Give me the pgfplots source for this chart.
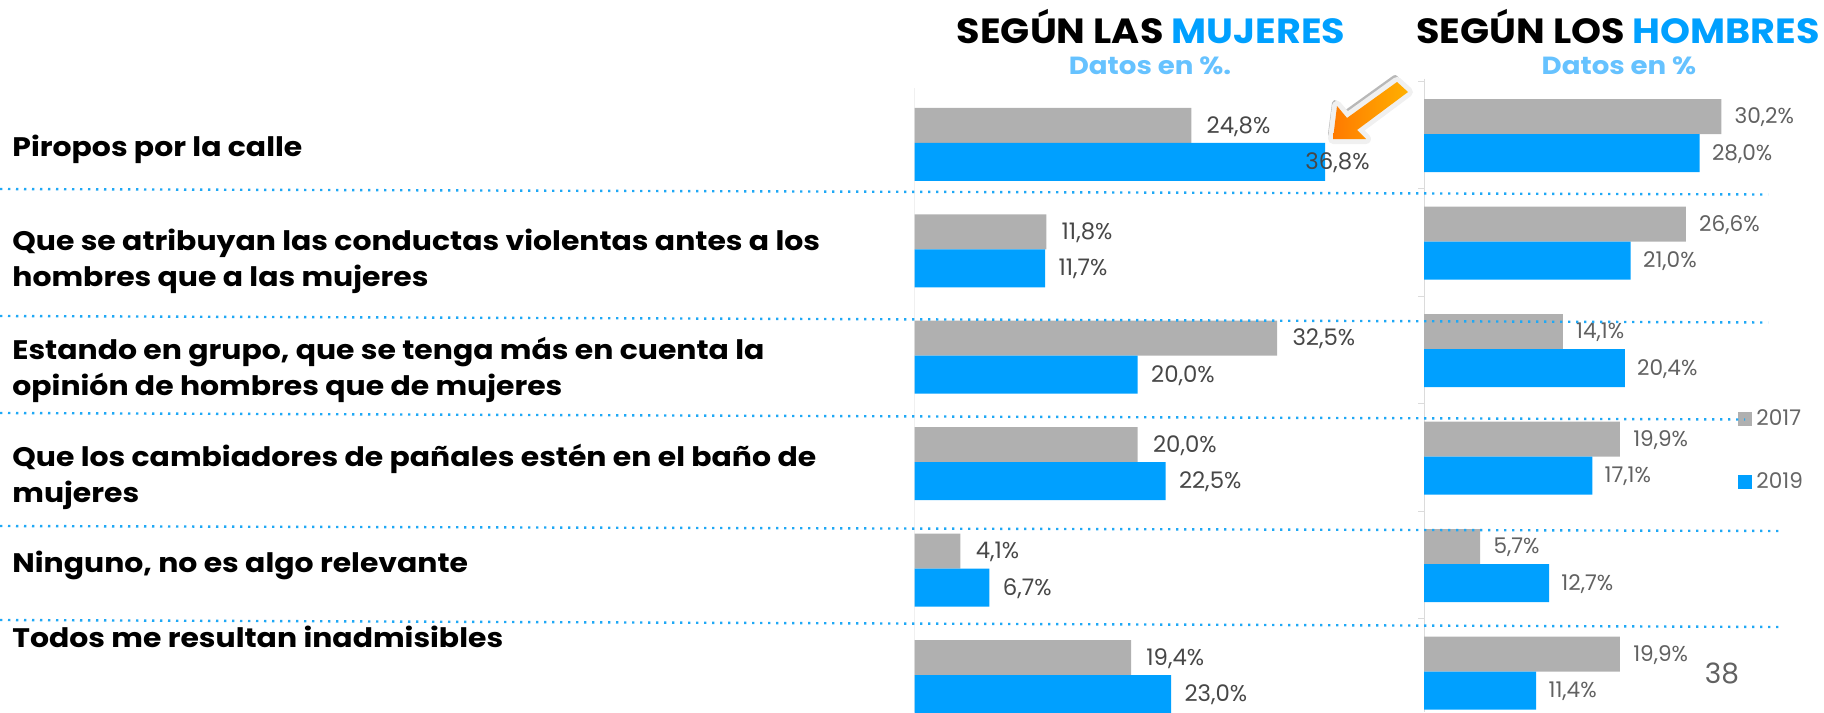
\documentclass[border=0pt]{standalone}
\usepackage{fontspec}
\setmainfont{Poppins}
\newfontfamily\widefont[FakeStretch=1.115]{Poppins}
\newfontfamily\titlefont[FakeStretch=1.09]{Poppins}
\usepackage{pgfplots}
\pgfplotsset{compat=1.18}
\usepackage{pgfplotstable}
\definecolor{barblue}{HTML}{00A0FF}
\definecolor{bargray}{HTML}{B0B0B0}
\definecolor{subblue}{HTML}{66C2FF}
\definecolor{dotblue}{HTML}{1FA8F5}
\definecolor{arrowlo}{HTML}{FF7A00}
\definecolor{arrowhi}{HTML}{FFB000}
\pgfplotstableread{
idx v2017m v2019m v2017h v2019h
0 24.8 36.8 30.2 28.0
1 11.8 11.7 26.6 21.0
2 32.5 20.0 14.1 20.4
3 20.0 22.5 19.9 17.1
4 4.1 6.7 5.7 12.7
5 19.4 23.0 19.9 11.4
}\datatable
\pgfplotsset{
 panel/.style={
  anchor=north west, scale only axis, y dir=reverse,
  xbar, xmin=0,
  axis x line=none, axis y line=left,
  ytick={-0.5,0.5,1.5,2.5,3.5,4.5}, yticklabels={},
  y axis line style={-},
  point meta=x,
  nodes near coords={\pgfmathprintnumber[/pgf/number format/.cd,fixed,fixed zerofill,precision=1,use comma,assume math mode=true]{\pgfplotspointmeta}\%},
  nodes near coords align={anchor=west},
 },
 gbar/.style={fill=bargray,draw=none,bar width=17.5pt,bar shift=9pt},
 bbar/.style={fill=barblue,draw=none,bar width=19pt,bar shift=-9.25pt},
}
\begin{document}
\begin{tikzpicture}
\useasboundingbox (0pt,0pt) rectangle (912pt,-356pt);

% left panel
\begin{axis}[panel, at={(457.35pt,-44pt)}, width=242.65pt, height=312pt,
  xmax=43.52, ymin=-0.52, ymax=5.343,
  y axis line style={draw=black!6}, ytick style={draw=none},
  every node near coord/.append style={inner sep=0pt,font=\fontsize{11.4}{12}\selectfont,text=black!72,yshift=-0.5pt}]
\addplot[gbar, every node near coord/.append style={xshift=7.5pt}] table[x=v2017m,y=idx]{\datatable};
\addplot[bbar, every node near coord/.append style={xshift=6.5pt},
  coordinate style/.condition={x>30}{xshift=-16.5pt}] table[x=v2019m,y=idx]{\datatable};
\end{axis}

% right panel
\begin{axis}[panel, at={(712pt,-39.3pt)}, width=188pt, height=316.7pt,
  xmax=38.2, ymin=-0.52, ymax=5.372,
  clip=false,
  y axis line style={draw=black!14}, ytick style={draw=black!14}, tick align=outside,
  major tick length=3pt,
  every node near coord/.append style={inner sep=0pt,font=\fontsize{10.8}{12}\selectfont,text=black!62,yshift=-0.5pt},
  legend style={at={(0.835,0.485)},anchor=north west,draw=none,fill=none,inner sep=0pt,
     font=\fontsize{10.8}{12}\selectfont,text=black!60,row sep=18.3pt,
     /tikz/every even column/.append style={column sep=2pt}},
  legend cell align=left,
  legend image code/.code={\fill[#1] (0pt,-3.5pt) rectangle (7pt,3.5pt);}]
\addplot[gbar, every node near coord/.append style={xshift=6.5pt}] table[x=v2017h,y=idx]{\datatable};
\addlegendentry{2017}
\addplot[bbar, every node near coord/.append style={xshift=6pt}] table[x=v2019h,y=idx]{\datatable};
\addlegendentry{2019}
\end{axis}

\begin{scope}[x=0.5pt,y=-0.5pt]
% separators
\begin{scope}[dotblue,line width=1.2pt,dash pattern=on 1.2pt off 2.8pt]
\draw (0,189)--(1768,194.5);
\draw (0,316)--(1768,322.5);
\draw (0,413)--(1745,419.5);
\draw (0,526)--(1783,531);
\draw (0,620)--(1783,627);
\end{scope}

% titles
\node[anchor=center,font=\titlefont\fontsize{17.5}{20}\selectfont\bfseries] at (1151,27) {SEGÚN LAS \textcolor{barblue}{MUJERES}};
\node[anchor=center,font=\titlefont\fontsize{17.5}{20}\selectfont\bfseries] at (1618,27) {SEGÚN LOS \textcolor{barblue}{HOMBRES}};
\node[anchor=center,font=\widefont\fontsize{12.4}{14}\selectfont\bfseries,text=subblue] at (1150,66) {Datos en \%.};
\node[anchor=center,font=\widefont\fontsize{12.4}{14}\selectfont\bfseries,text=subblue] at (1619,66) {Datos en \%};

% category labels
\begin{scope}[every node/.style={anchor=west,inner sep=0pt,align=left,font=\widefont\fontsize{13.4}{18}\selectfont\bfseries}]
\node at (12,149) {Piropos por la calle};
\node at (12,261) {Que se atribuyan las conductas violentas antes a los\\hombres que a las mujeres};
\node at (12,370) {Estando en grupo, que se tenga más en cuenta la\\opinión de hombres que de mujeres};
\node at (12,477) {Que los cambiadores de pañales estén en el baño de\\mujeres};
\node at (12,565) {Ninguno, no es algo relevante};
\node at (12,637) {Todos me resultan inadmisibles};
\end{scope}

% page number
\node[anchor=center,font=\fontsize{14}{16}\selectfont,text=black!62] at (1722,673) {38};

% arrow
\fill[black!28,draw=black!28,line width=3pt,line join=round]
 (1331,134)--(1335,103)--(1345,114)--(1395,78)--(1404,90)--(1355,127)--(1362,137)--cycle;
\fill[black!6,draw=black!6,line width=5pt,line join=round]
 (1333,139)--(1337,106)--(1347,118)--(1397,82)--(1408,92)--(1357,130)--(1366,139)--cycle;
\shade[left color=arrowlo, right color=arrowhi]
 (1333,139)--(1337,106)--(1347,118)--(1397,82)--(1408,92)--(1357,130)--(1366,139)--cycle;
\end{scope}
\end{tikzpicture}
\end{document}
